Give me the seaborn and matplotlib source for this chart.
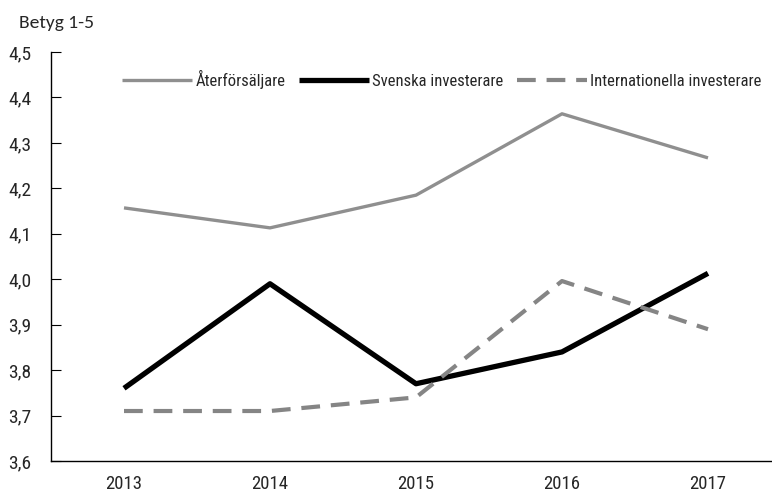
import matplotlib
matplotlib.use("Agg")
import matplotlib.pyplot as plt
import seaborn as sns
import pandas as pd
from matplotlib.ticker import FixedLocator, FuncFormatter

years = ["2013", "2014", "2015", "2016", "2017"]
aterforsaljare = [4.157, 4.113, 4.185, 4.364, 4.267]
svenska = [3.76, 3.99, 3.77, 3.84, 4.013]
internationella = [3.71, 3.71, 3.74, 3.996, 3.89]
series_names = ["Återförsäljare", "Svenska investerare", "Internationella investerare"]
y_ticks = [3.6, 3.7, 3.8, 3.9, 4.0, 4.1, 4.2, 4.3, 4.4, 4.5]

sns.set_style("white")
cond = ["Roboto Condensed", "DejaVu Sans"]
plt.rcParams["font.family"] = cond

fig = plt.figure(figsize=(7.72, 4.96), dpi=100)
ax = fig.add_axes([51 / 772, 1 - 461 / 496, 730 / 772, (461 - 52) / 496])

styles = [
    dict(color="#8f8f8f", lw=2.4, ls="-"),
    dict(color="#000000", lw=3.8, ls="-"),
    dict(color="#858585", lw=3.0, ls=(0, (4.5, 2.6))),
]
for name, vals, st in zip(series_names, [aterforsaljare, svenska, internationella], styles):
    df = pd.DataFrame({"year": years, "value": vals})
    sns.lineplot(data=df, x="year", y="value", ax=ax, color=st["color"],
                 linewidth=st["lw"], linestyle=st["ls"], label=name,
                 solid_capstyle="butt", dash_capstyle="butt")

ax.set_xlim(-0.5, 4.5)
ax.set_ylim(3.6, 4.5)
ax.set_yticks(y_ticks)
ax.yaxis.set_major_formatter(FuncFormatter(lambda v, p: f"{v:.1f}".replace(".", ",")))
ax.set_xticks(range(len(years)))
ax.set_xticklabels(years)
ax.xaxis.set_minor_locator(FixedLocator([i - 0.5 for i in range(len(years) + 1)]))
ax.tick_params(axis="x", which="major", length=0, pad=10, labelsize=13.5)
ax.tick_params(axis="x", which="minor", length=13, width=0.8, direction="inout", color="black")
ax.tick_params(axis="y", which="major", length=7, width=0.8, direction="in", color="black",
               labelsize=14, pad=14, left=True)
ax.set_xlabel("")
ax.set_ylabel("")
for s in ["top", "right"]:
    ax.spines[s].set_visible(False)
for s in ["left", "bottom"]:
    ax.spines[s].set_color("black")
    ax.spines[s].set_linewidth(1.0)

leg = ax.legend(loc="center left", bbox_to_anchor=(71 / 730, 1 - 27 / 409), ncol=3, frameon=False,
                fontsize=12, handlelength=4.2, handletextpad=0.2, columnspacing=0.8,
                borderaxespad=0, borderpad=0)

fig.text(19 / 772, 1 - 28 / 496, "Betyg 1-5", fontsize=14, family=["Carlito", "DejaVu Sans"],
         va="baseline", ha="left")

fig.savefig("out.png", dpi=100)
